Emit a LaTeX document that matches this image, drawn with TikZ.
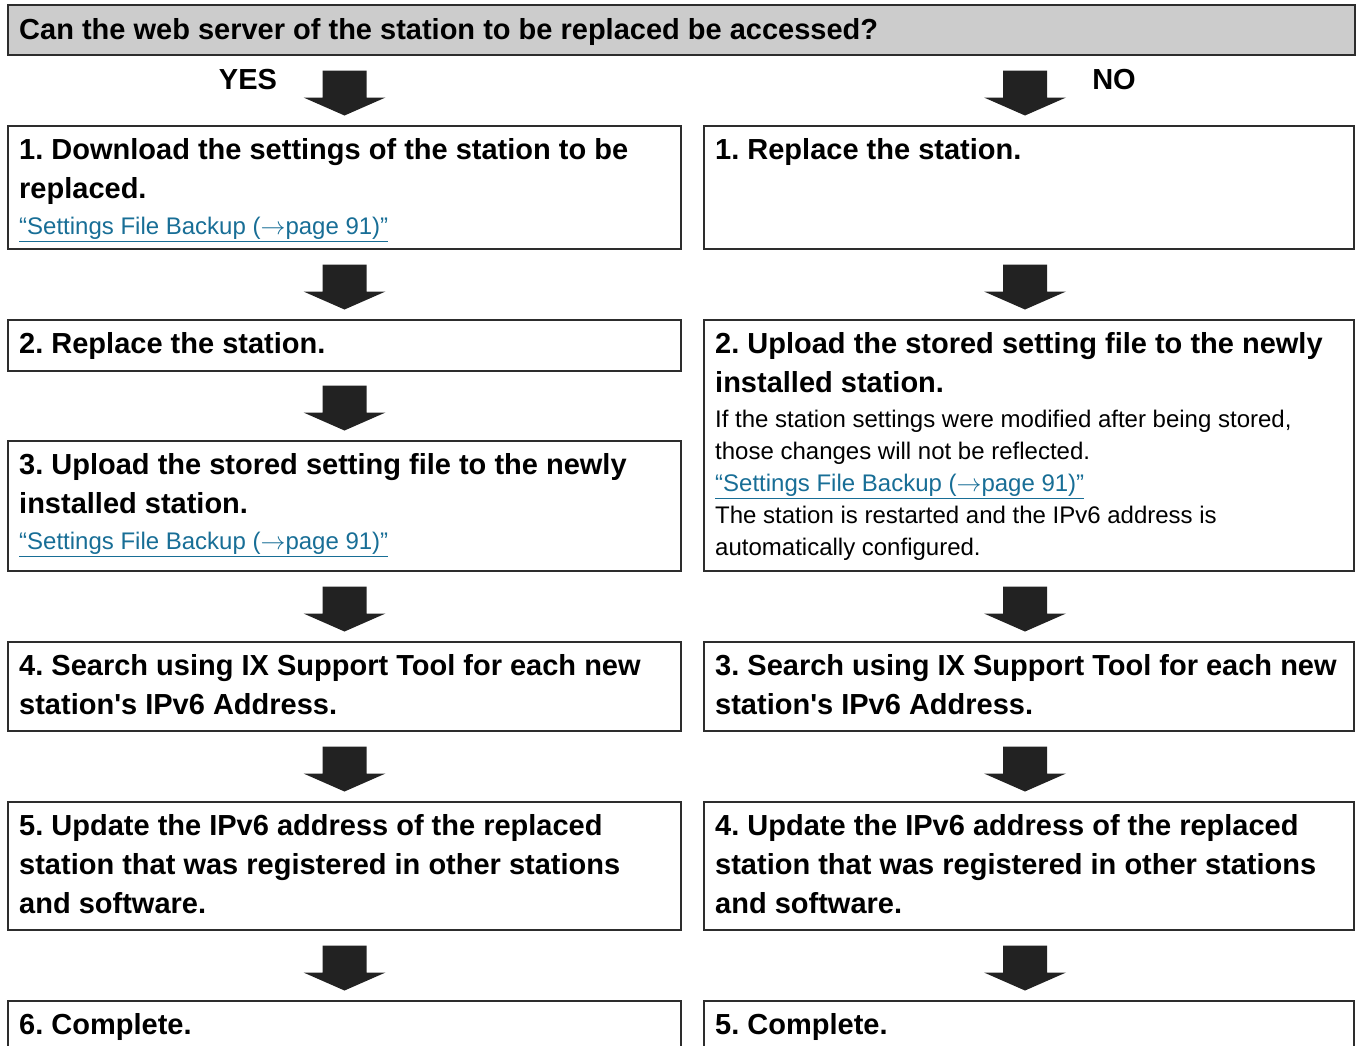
\documentclass[tikz,border=0pt]{standalone}
\usepackage{fontspec}
\setmainfont{Liberation Sans}
\usetikzlibrary{calc}
\definecolor{linkc}{RGB}{24,110,150}
\definecolor{hdrfill}{RGB}{204,204,204}
\definecolor{boxline}{RGB}{45,45,45}
\definecolor{arrowc}{RGB}{34,34,34}
\frenchspacing
\newcommand\bfnt{\fontsize{29}{39}\selectfont\bfseries}
\newcommand\rgfnt{\fontsize{24}{32}\selectfont\mdseries}
\newcommand\lnk[1]{{\color{linkc}\underline{#1}}}
\newcommand\pgref{“Settings File Backup ($\rightarrow$page 91)”}
\newcommand\bx[1]{\vtop{\hsize=700pt\parindent=0pt\raggedright\frenchspacing #1}}
\newcommand\blkarrow[1]{\fill[arrowc] #1 ++(0,-10.5) -- ++(-41,-18) -- ++(19,0) -- ++(0,-27) -- ++(44,0) -- ++(0,27) -- ++(19,0) -- cycle;}
\tikzset{
  box/.style={draw=boxline, line width=1.4pt, rectangle, inner sep=0pt, outer sep=0pt, anchor=north west},
  hdr/.style={box, fill=hdrfill},
  txt/.style={inner sep=0pt, anchor=base west},
  lbl/.style={inner sep=0pt, anchor=base, font=\bfnt}
}
\begin{document}
\begin{tikzpicture}[x=1pt,y=-1pt]
\useasboundingbox (0,0) rectangle (1359,1045);
\clip (0,0) rectangle (1359,1045);
% header
\node[hdr, minimum width=1347, minimum height=50] (q) at (8,5) {};
\node[txt] (tq) at (19,39) {\bfnt Can the web server of the station to be replaced be accessed?};
\node[lbl] (yes) at (248,89) {YES};
\node[lbl] (no) at (1114,89) {NO};
% boxes
\node[box, minimum width=673, minimum height=123] (b1L) at (8,126) {};
\node[box, minimum width=650, minimum height=123] (b1R) at (704,126) {};
\node[box, minimum width=673, minimum height=51] (b2L) at (8,320) {};
\node[box, minimum width=650, minimum height=251] (b2R) at (704,320) {};
\node[box, minimum width=673, minimum height=130] (b3L) at (8,441) {};
\node[box, minimum width=673, minimum height=89] (b4L) at (8,642) {};
\node[box, minimum width=650, minimum height=89] (b4R) at (704,642) {};
\node[box, minimum width=673, minimum height=128] (b5L) at (8,802) {};
\node[box, minimum width=650, minimum height=128] (b5R) at (704,802) {};
\node[box, minimum width=673, minimum height=80] (b6L) at (8,1001) {};
\node[box, minimum width=650, minimum height=80] (b6R) at (704,1001) {};
% texts
\node[txt] (t1L) at (19,159.5) {\bx{\bfnt 1. Download the settings of the station to be\\replaced.\par\rgfnt\vspace{4pt}\lnk{\pgref}}};
\node[txt] (t1R) at (715,159.5) {\bfnt 1. Replace the station.};
\node[txt] (t2L) at (19,353.5) {\bfnt 2. Replace the station.};
\node[txt] (t2R) at (715,353.5) {\bx{\bfnt 2. Upload the stored setting file to the newly\\installed station.\par\rgfnt\vspace{3pt}If the station settings were modified after being stored,\\those changes will not be reflected.\\\lnk{\pgref}\\The station is restarted and the IPv6 address is\\automatically configured.}};
\node[txt] (t3L) at (19,474.5) {\bx{\bfnt 3. Upload the stored setting file to the newly\\installed station.\par\rgfnt\vspace{4pt}\lnk{\pgref}}};
\node[txt] (t4L) at (19,675.5) {\bx{\bfnt 4. Search using IX Support Tool for each new\\station\textquotesingle s IPv6 Address.}};
\node[txt] (t4R) at (715,675.5) {\bx{\bfnt 3. Search using IX Support Tool for each new\\station\textquotesingle s IPv6 Address.}};
\node[txt] (t5L) at (19,835.5) {\bx{\bfnt 5. Update the IPv6 address of the replaced\\station that was registered in other stations\\and software.}};
\node[txt] (t5R) at (715,835.5) {\bx{\bfnt 4. Update the IPv6 address of the replaced\\station that was registered in other stations\\and software.}};
\node[txt] (t6L) at (19,1034.5) {\bfnt 6. Complete.};
\node[txt] (t6R) at (715,1034.5) {\bfnt 5. Complete.};
% block arrows
\blkarrow{(b1L.north)}
\blkarrow{($(b1R.north)+(-4,0)$)}
\blkarrow{(b2L.north)}
\blkarrow{($(b2R.north)+(-4,0)$)}
\blkarrow{(b3L.north)}
\blkarrow{(b4L.north)}
\blkarrow{($(b4R.north)+(-4,0)$)}
\blkarrow{(b5L.north)}
\blkarrow{($(b5R.north)+(-4,0)$)}
\blkarrow{(b6L.north)}
\blkarrow{($(b6R.north)+(-4,0)$)}
\end{tikzpicture}
\end{document}
